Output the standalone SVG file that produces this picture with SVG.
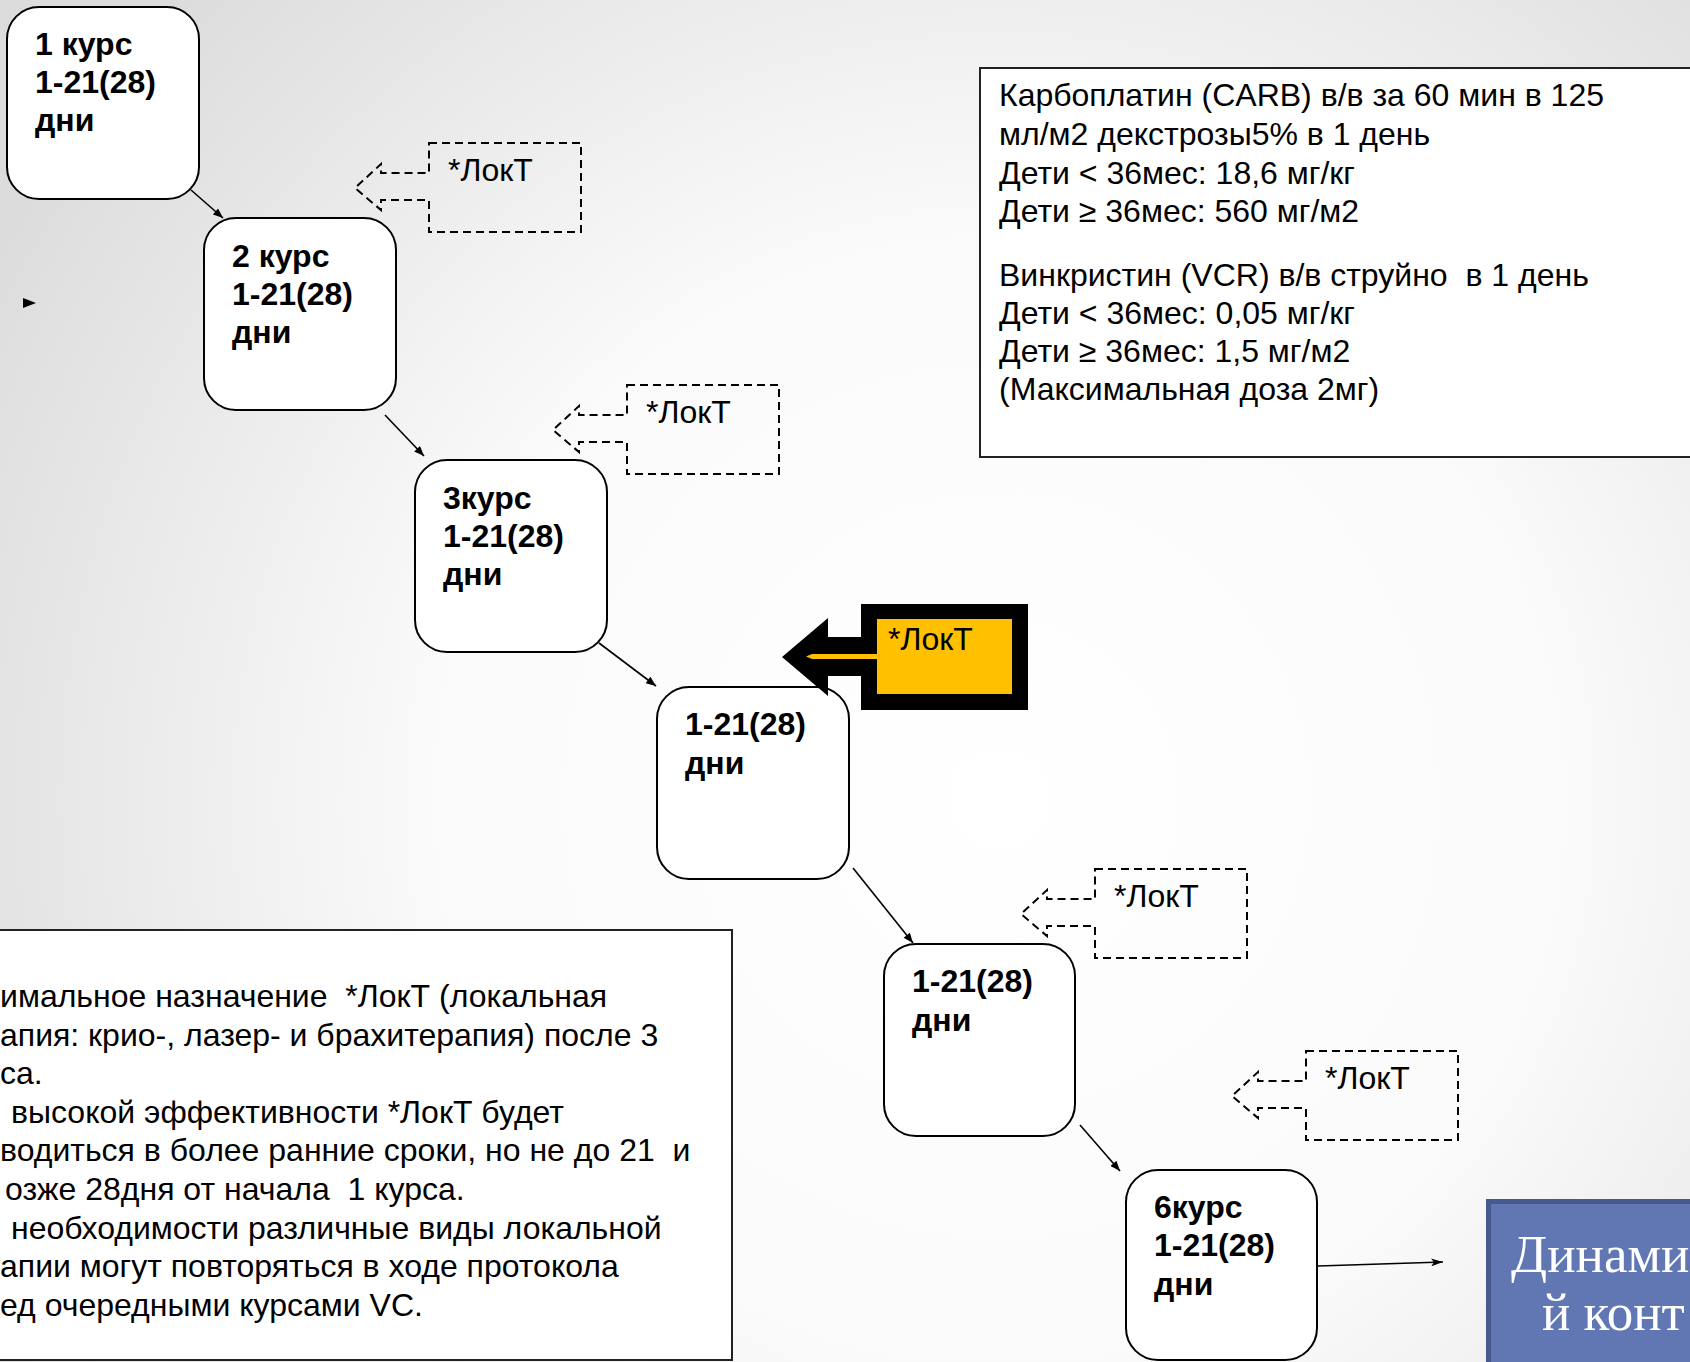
<svg xmlns="http://www.w3.org/2000/svg" xmlns:xlink="http://www.w3.org/1999/xlink" width="1690" height="1362" viewBox="0 0 1690 1362">
<style>
.node{fill:#ffffff;stroke:#000;stroke-width:2}
.nt{font-family:"Liberation Sans",Arial,sans-serif;font-weight:bold;font-size:32px;fill:#000}
.tx{font-family:"Liberation Sans",Arial,sans-serif;font-size:32px;fill:#000;white-space:pre}
.dash{fill:none;stroke:#000;stroke-width:2;stroke-dasharray:8 5}
.conn{fill:none;stroke:#000;stroke-width:1.6}
.panel{fill:#ffffff;stroke:#222;stroke-width:2}
.serif{font-family:"Liberation Serif","Times New Roman",serif;font-size:53px;fill:#ffffff}
</style>
<defs>
<radialGradient id="bg" cx="1000" cy="800" r="1150" gradientUnits="userSpaceOnUse">
<stop offset="0" stop-color="#ffffff"/>
<stop offset="0.5" stop-color="#fafafa"/>
<stop offset="1" stop-color="#dcdcdc"/>
</radialGradient>
<marker id="ah" viewBox="0 0 10 8" refX="10" refY="4" markerWidth="11" markerHeight="8" markerUnits="userSpaceOnUse" orient="auto">
<path d="M0,0 L10,4 L0,8 Z" fill="#000"/>
</marker>
<marker id="ah2" viewBox="0 0 12 8" refX="12" refY="4" markerWidth="12" markerHeight="8" markerUnits="userSpaceOnUse" orient="auto">
<path d="M0,0 L12,4 L0,8 L3,4 Z" fill="#000"/>
</marker>
<path id="dcall" d="M0,0 H152 V89 H0 V57 H-48 V67 L-74,45 L-48,21 V30 H0 Z"/>
</defs>
<rect x="0" y="0" width="1690" height="1362" fill="url(#bg)"/>

<polygon points="23,298 36,303 23,308" fill="#000"/>

<g id="info-top">
<rect class="panel" x="980" y="68" width="730" height="389"/>
<text class="tx" x="999" y="106" xml:space="preserve">Карбоплатин (CARB) в/в за 60 мин в 125</text>
<text class="tx" x="999" y="145" xml:space="preserve">мл/м2 декстрозы5% в 1 день</text>
<text class="tx" x="999" y="183.5" xml:space="preserve">Дети &lt; 36мес: 18,6 мг/кг</text>
<text class="tx" x="999" y="222" xml:space="preserve">Дети ≥ 36мес: 560 мг/м2</text>
<text class="tx" x="999" y="286" xml:space="preserve">Винкристин (VCR) в/в струйно  в 1 день</text>
<text class="tx" x="999" y="324" xml:space="preserve">Дети &lt; 36мес: 0,05 мг/кг</text>
<text class="tx" x="999" y="362" xml:space="preserve">Дети ≥ 36мес: 1,5 мг/м2</text>
<text class="tx" x="999" y="400" xml:space="preserve">(Максимальная доза 2мг)</text>
</g>

<g id="info-bottom">
<rect class="panel" x="-10" y="930" width="742" height="430"/>
<text class="tx" x="0" y="1007" xml:space="preserve">имальное назначение  *ЛокТ (локальная</text>
<text class="tx" x="0" y="1045.6" xml:space="preserve">апия: крио-, лазер- и брахитерапия) после 3</text>
<text class="tx" x="0" y="1084.2" xml:space="preserve">са.</text>
<text class="tx" x="11" y="1122.8" xml:space="preserve">высокой эффективности *ЛокТ будет</text>
<text class="tx" x="0" y="1161.4" xml:space="preserve">водиться в более ранние сроки, но не до 21  и</text>
<text class="tx" x="5" y="1200" xml:space="preserve">озже 28дня от начала  1 курса.</text>
<text class="tx" x="11" y="1238.6" xml:space="preserve">необходимости различные виды локальной</text>
<text class="tx" x="0" y="1277.2" xml:space="preserve">апии могут повторяться в ходе протокола</text>
<text class="tx" x="0" y="1315.8" xml:space="preserve">ед очередными курсами VC.</text>
</g>

<g id="connectors">
<line class="conn" x1="191" y1="190" x2="223" y2="218" marker-end="url(#ah)"/>
<line class="conn" x1="385" y1="415" x2="424" y2="456" marker-end="url(#ah)"/>
<line class="conn" x1="599" y1="643" x2="656" y2="686" marker-end="url(#ah)"/>
<line class="conn" x1="853" y1="868" x2="913" y2="943" marker-end="url(#ah)"/>
<line class="conn" x1="1080" y1="1125" x2="1120" y2="1171" marker-end="url(#ah)"/>
<line class="conn" x1="1318" y1="1266" x2="1443" y2="1262" marker-end="url(#ah2)"/>
</g>

<g id="node1">
<rect class="node" x="7" y="7" width="192" height="192" rx="32"/>
<text class="nt" x="35" y="55">1 курс</text>
<text class="nt" x="35" y="93">1-21(28)</text>
<text class="nt" x="35" y="131">дни</text>
</g>
<g id="node2">
<rect class="node" x="204" y="218" width="192" height="192" rx="32"/>
<text class="nt" x="232" y="267">2 курс</text>
<text class="nt" x="232" y="305">1-21(28)</text>
<text class="nt" x="232" y="343">дни</text>
</g>
<g id="node3">
<rect class="node" x="415" y="460" width="192" height="192" rx="32"/>
<text class="nt" x="443" y="509">3курс</text>
<text class="nt" x="443" y="547">1-21(28)</text>
<text class="nt" x="443" y="585">дни</text>
</g>
<g id="node4">
<rect class="node" x="657" y="687" width="192" height="192" rx="32"/>
<text class="nt" x="685" y="735">1-21(28)</text>
<text class="nt" x="685" y="774">дни</text>
</g>
<g id="node5">
<rect class="node" x="884" y="944" width="191" height="192" rx="32"/>
<text class="nt" x="912" y="992">1-21(28)</text>
<text class="nt" x="912" y="1031">дни</text>
</g>
<g id="node6">
<rect class="node" x="1126" y="1170" width="191" height="190" rx="32"/>
<text class="nt" x="1154" y="1218">6курс</text>
<text class="nt" x="1154" y="1256">1-21(28)</text>
<text class="nt" x="1154" y="1295">дни</text>
</g>

<g id="lokt1">
<use xlink:href="#dcall" href="#dcall" class="dash" x="429" y="143"/>
<text class="tx" x="448" y="181">*ЛокТ</text>
</g>
<g id="lokt2">
<use xlink:href="#dcall" href="#dcall" class="dash" x="627" y="385"/>
<text class="tx" x="646" y="423">*ЛокТ</text>
</g>
<g id="lokt3">
<path d="M861,604 H1028 V710 H861 V676 H828 V696 L782,657 L828,618 V637 H861 Z" fill="#000"/>
<rect x="877" y="619" width="135" height="75" fill="#ffc000"/>
<path d="M877,654 H812 L806,656.5 L812,659 H877 Z" fill="#ffc000"/>
<text class="tx" x="888" y="650">*ЛокТ</text>
</g>
<g id="lokt4">
<use xlink:href="#dcall" href="#dcall" class="dash" x="1095" y="869"/>
<text class="tx" x="1114" y="907">*ЛокТ</text>
</g>
<g id="lokt5">
<use xlink:href="#dcall" href="#dcall" class="dash" x="1306" y="1051"/>
<text class="tx" x="1325" y="1089">*ЛокТ</text>
</g>

<g id="control">
<rect x="1488.5" y="1201.5" width="400" height="200" fill="#6177b3" stroke="#475a90" stroke-width="5"/>
<text class="serif" x="1511" y="1272">Динами</text>
<text class="serif" x="1542" y="1330">й конт</text>
</g>
</svg>
